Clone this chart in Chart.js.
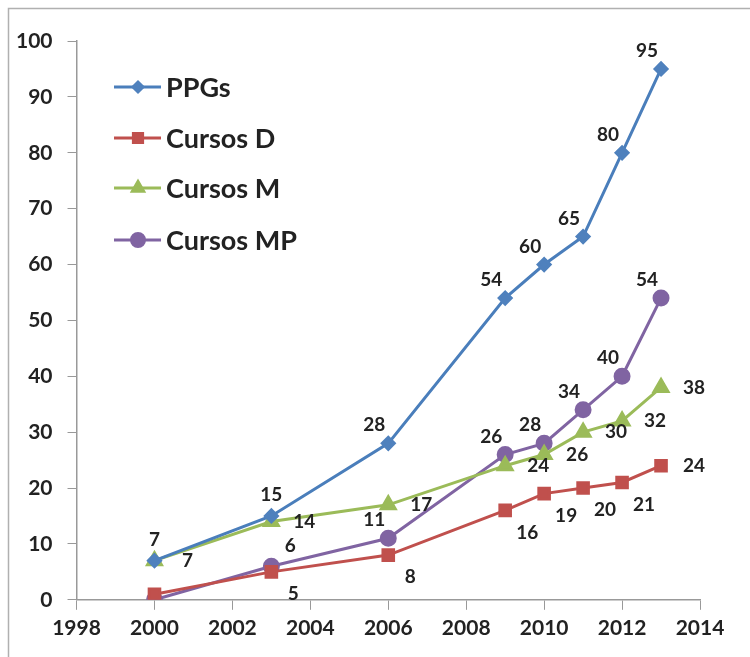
<!DOCTYPE html>
<html>
<head>
<meta charset="utf-8">
<script src="https://cdn.jsdelivr.net/npm/chart.js@4"></script>
<style>
  html, body { margin: 0; padding: 0; background: #fff; }
  #wrap { width: 750px; height: 657px; }
</style>
</head>
<body>
<div id="wrap"><canvas id="line-chart" width="750" height="657"></canvas></div>
<script>
// values
const years = [2000, 2003, 2006, 2009, 2010, 2011, 2012, 2013];
const ppgs     = [7, 15, 28, 54, 60, 65, 80, 95];
const cursosD  = [1, 5, 8, 16, 19, 20, 21, 24];
const cursosM  = [7, 14, 17, 24, 26, 30, 32, 38];
const cursosMP = [0, 6, 11, 26, 28, 34, 40, 54];
const seriesNames = ["PPGs", "Cursos D", "Cursos M", "Cursos MP"];

// where each value label sits relative to its point (null = not shown)
const labelPos = [
  ["t", "t", "tl", "tl", "tl", "tl", "tl", "tl"],
  [null, "br", "br", "br", "br", "br", "br", "r"],
  ["r", "r", "r", "r", "r", "r", "r", "r"],
  [null, "tr", "tl", "tl", "tl", "tl", "tl", "tl"]
];
const offsets = {
  t:  [0, -21],
  tl: [-14, -18],
  tr: [19, -20],
  r:  [33, 0],
  br: [22, 22]
};

const font = "Lato, 'Liberation Sans', sans-serif";

function pts(vals) {
  return years.map((y, i) => ({ x: y, y: vals[i] }));
}

const dataLabels = {
  id: "dataLabels",
  afterDatasetsDraw(chart) {
    const ctx = chart.ctx;
    ctx.save();
    ctx.font = "bold 19px " + font;
    ctx.fillStyle = "#222";
    ctx.textAlign = "center";
    ctx.textBaseline = "middle";
    chart.data.datasets.forEach((ds, di) => {
      const meta = chart.getDatasetMeta(di);
      meta.data.forEach((el, i) => {
        const p = labelPos[di][i];
        if (!p) return;
        const o = offsets[p];
        ctx.fillText(String(ds.data[i].y), el.x + o[0], el.y + o[1]);
      });
    });
    ctx.restore();
  }
};

const insideLegend = {
  id: "insideLegend",
  afterDraw(chart) {
    const ctx = chart.ctx;
    ctx.save();
    const rowsY = [87, 138, 188, 240];
    chart.data.datasets.forEach((ds, di) => {
      const y = rowsY[di];
      ctx.strokeStyle = ds.borderColor;
      ctx.lineWidth = 3;
      ctx.beginPath();
      ctx.moveTo(114, y);
      ctx.lineTo(161, y);
      ctx.stroke();
      ctx.fillStyle = ds.pointBackgroundColor;
      ctx.strokeStyle = ds.pointBackgroundColor;
      Chart.helpers.drawPoint(ctx, {
        pointStyle: ds.pointStyle,
        radius: ds.pointStyle === "rectRot" ? 5 : 6.5,
        borderWidth: 1
      }, 138, y);
      ctx.font = "bold 27px " + font;
      ctx.fillStyle = "#222";
      ctx.textAlign = "left";
      ctx.textBaseline = "middle";
      ctx.fillText(seriesNames[di], 166, y + 1);
    });
    ctx.restore();
  }
};

const frame = {
  id: "frame",
  beforeDraw(chart) {
    const ctx = chart.ctx;
    ctx.save();
    ctx.strokeStyle = "#b0b0b0";
    ctx.lineWidth = 1.5;
    ctx.beginPath();
    ctx.moveTo(8.5, 657);
    ctx.lineTo(8.5, 8.5);
    ctx.lineTo(750, 8.5);
    ctx.stroke();
    ctx.restore();
  }
};

new Chart(document.getElementById("line-chart"), {
  type: "line",
  data: {
    datasets: [{
        data: pts(ppgs),
        label: seriesNames[0],
        borderColor: "#4A7EBB",
        pointBackgroundColor: "#4F81BD",
        pointBorderColor: "#4F81BD",
        pointStyle: "rectRot",
        pointRadius: 6,
        borderWidth: 3,
        fill: false
      },
      {
        data: pts(cursosD),
        label: seriesNames[1],
        borderColor: "#C0504D",
        pointBackgroundColor: "#C0504D",
        pointBorderColor: "#C0504D",
        pointStyle: "rect",
        pointRadius: 7.5,
        borderWidth: 3,
        fill: false
      },
      {
        data: pts(cursosM),
        label: seriesNames[2],
        borderColor: "#9BBB59",
        pointBackgroundColor: "#9BBB59",
        pointBorderColor: "#9BBB59",
        pointStyle: "triangle",
        pointRadius: 8,
        borderWidth: 3,
        fill: false
      },
      {
        data: pts(cursosMP),
        label: seriesNames[3],
        borderColor: "#8064A2",
        pointBackgroundColor: "#8064A2",
        pointBorderColor: "#8064A2",
        pointStyle: "circle",
        pointRadius: 7,
        borderWidth: 3,
        fill: false
      }
    ]
  },
  options: {
    responsive: false,
    animation: false,
    layout: { padding: { left: 1, right: 50, top: 41, bottom: 10 } },
    plugins: {
      legend: { display: false },
      tooltip: { enabled: false },
      title: { display: false }
    },
    scales: {
      x: {
        type: "linear",
        min: 1998,
        max: 2014,
        ticks: {
          stepSize: 2,
          color: "#222",
          font: { family: font, size: 21, weight: "bold" },
          padding: 6,
          callback: v => String(v)
        },
        grid: { drawOnChartArea: false, tickLength: 10, color: "#999" },
        border: { color: "#999", width: 1.5 }
      },
      y: {
        min: 0,
        max: 100,
        ticks: { stepSize: 10, color: "#222", font: { family: font, size: 21, weight: "bold" }, padding: 15 },
        grid: { drawOnChartArea: false, tickLength: 9, color: "#999" },
        border: { color: "#999", width: 1.5 }
      }
    }
  },
  plugins: [frame, dataLabels, insideLegend]
});
</script>
</body>
</html>
